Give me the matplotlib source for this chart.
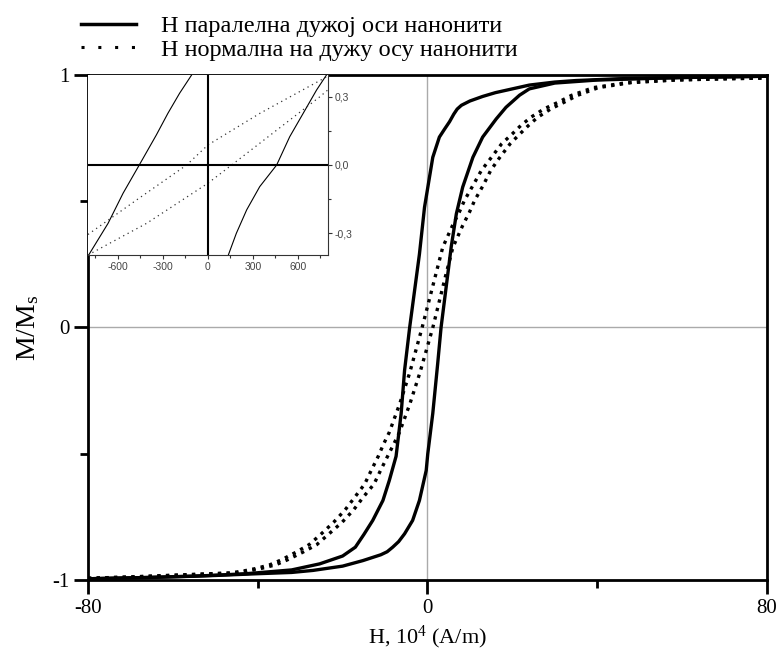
import matplotlib.pyplot as plt
from matplotlib.lines import Line2D

plt.rcParams['font.family'] = ['Liberation Serif', 'DejaVu Serif']
plt.rcParams['mathtext.fontset'] = 'custom'
plt.rcParams['mathtext.rm'] = 'Liberation Serif'
plt.rcParams['mathtext.it'] = 'Liberation Serif:italic'
plt.rcParams['axes.unicode_minus'] = False

# H parallel to the long axis - descending branch (from +80 to -80)
par_down_h = [80, 60, 45, 35, 30, 24, 20, 16, 13, 10, 8, 7, 6.2, 5.2, 4, 2.8, 1.25,
              0.47, -0.7, -1.9, -4.2, -5.4, -6.2, -7.4, -9, -10.5, -12.9, -15, -17,
              -20, -25.4, -32, -42.7, -55, -66, -80]
par_down_m = [0.995, 0.99, 0.985, 0.978, 0.972, 0.96, 0.945, 0.93, 0.915, 0.897,
              0.88, 0.865, 0.845, 0.815, 0.785, 0.754, 0.674, 0.595, 0.476, 0.29,
              0.0, -0.17, -0.34, -0.51, -0.606, -0.685, -0.764, -0.82, -0.87,
              -0.905, -0.936, -0.96, -0.975, -0.985, -0.99, -0.995]

# H parallel - ascending branch (from -80 to +80)
par_up_h = [-80, -66, -50, -40, -32, -27, -20, -15.2, -11, -9.5, -8.2, -6.8, -5.4,
            -3.5, -1.9, -0.3, 0.07, 1.25, 2.4, 3.2, 4.4, 5.6, 6.8, 8.3, 10.7, 13,
            16.2, 18.5, 21.7, 24, 30, 40, 50, 60, 80]
par_up_m = [-0.995, -0.99, -0.982, -0.975, -0.97, -0.962, -0.945, -0.923, -0.9,
            -0.888, -0.87, -0.848, -0.817, -0.764, -0.685, -0.566, -0.5, -0.34,
            -0.144, 0.0, 0.16, 0.32, 0.45, 0.556, 0.674, 0.754, 0.826, 0.872, 0.92,
            0.945, 0.968, 0.98, 0.985, 0.99, 0.995]

# H normal to the long axis - two branches sharing the same M values
perp_m = [-0.993, -0.988, -0.98, -0.972, -0.965, -0.955, -0.94, -0.92, -0.89, -0.86,
          -0.82, -0.771, -0.722, -0.669, -0.62, -0.564, -0.51, -0.46, -0.415, -0.36,
          -0.305, -0.18, 0.0, 0.2, 0.318, 0.404, 0.457, 0.503, 0.562, 0.622, 0.668,
          0.728, 0.767, 0.8, 0.833, 0.866, 0.892, 0.919, 0.95, 0.97, 0.98, 0.985, 0.988]
perp_down_h = [-80, -70.5, -58.5, -46.6, -43.6, -40.6, -37.2, -34.4, -31, -27.9,
               -25.2, -22.1, -19.4, -17, -14.8, -13.2, -11.6, -10.3, -9, -7.8, -6.6,
               -4.2, -1.26, 1.8, 3.6, 5.9, 7.5, 8.7, 10.7, 12.7, 14.8, 17.5, 20, 22,
               24.4, 27.5, 30.8, 33.9, 39.1, 47.1, 57.6, 69.6, 80]
perp_up_h = [-80, -69.5, -57.5, -45.4, -42.4, -39.4, -35.8, -33, -29.4, -26.1,
             -23.4, -20.1, -17.4, -15, -12.6, -11, -9.4, -7.9, -6.6, -5.4, -4.2,
             -1.8, 1.26, 4.2, 6, 8.3, 9.9, 11.1, 13.1, 14.9, 16.8, 19.5, 21.8, 23.8,
             26, 29.1, 32.2, 35.3, 40.3, 48.1, 58.4, 70.4, 80]

# inset (zoom around the origin)
ins_par_left_h = [-800, -666, -566, -458, -344, -267, -189, -104]
ins_par_left_m = [-0.4, -0.256, -0.124, 0.0, 0.132, 0.227, 0.315, 0.4]
ins_par_right_h = [133, 189, 258, 345, 458, 545, 635, 724, 795]
ins_par_right_m = [-0.4, -0.3, -0.197, -0.095, 0.0, 0.124, 0.227, 0.329, 0.4]
ins_perp_upper_h = [-800, -475, -142, 0, 347, 800]
ins_perp_upper_m = [-0.305, -0.153, 0.0, 0.088, 0.227, 0.39]
ins_perp_lower_h = [-800, -409, 0, 158, 747, 800]
ins_perp_lower_m = [-0.395, -0.256, -0.08, 0.0, 0.3, 0.33]

legend_labels = ['Н паралелна дужој оси нанонити', 'Н нормална на дужу осу нанонити']

dots = (0, (1, 1.6))

fig = plt.figure(figsize=(7.82, 6.52), dpi=100)
ax = fig.add_axes([0.1125, 0.1104, 0.8683, 0.7746])

ax.axhline(0, color='#aaaaaa', lw=1, zorder=1)
ax.axvline(0, color='#aaaaaa', lw=1, zorder=1)
ax.plot(par_down_h, par_down_m, color='k', lw=2.4, zorder=3)
ax.plot(par_up_h, par_up_m, color='k', lw=2.4, zorder=3)
ax.plot(perp_down_h, perp_m, color='k', lw=2.4, linestyle=dots, zorder=2)
ax.plot(perp_up_h, perp_m, color='k', lw=2.4, linestyle=dots, zorder=2)

ax.set_xlim(-80, 80)
ax.set_ylim(-1, 1)
ax.set_xticks([-80, 0, 80])
ax.set_xticklabels(['-80', '0', '80'])
ax.set_xticks([-40, 40], minor=True)
ax.set_yticks([-1, 0, 1])
ax.set_yticklabels(['-1', '0', '1'])
ax.set_yticks([-0.5, 0.5], minor=True)
ax.tick_params(which='major', direction='out', length=10, width=2, labelsize=15)
ax.tick_params(which='minor', direction='out', length=6, width=2)
for s in ax.spines.values():
    s.set_linewidth(2)
ax.set_xlabel('H, 10$^4$ (A/m)', fontsize=16)
ax.set_ylabel('M/M$_\\mathrm{s}$', fontsize=20, labelpad=8)

# inset
ins = fig.add_axes([0.1125, 0.6089, 0.3069, 0.2761])
ins.plot(ins_par_left_h, ins_par_left_m, color='k', lw=0.8)
ins.plot(ins_par_right_h, ins_par_right_m, color='k', lw=0.8)
ins.plot(ins_perp_upper_h, ins_perp_upper_m, color='#333333', lw=0.9, linestyle=(0, (1, 3)))
ins.plot(ins_perp_lower_h, ins_perp_lower_m, color='#333333', lw=0.9, linestyle=(0, (1, 3)))
ins.axhline(0, color='k', lw=1.5)
ins.axvline(0, color='k', lw=1.5)
ins.set_xlim(-800, 800)
ins.set_ylim(-0.395, 0.395)
ins.spines['left'].set_visible(False)
ins.spines['top'].set_visible(False)
ins.spines['right'].set_color('#333333')
ins.spines['bottom'].set_color('#333333')
ins.yaxis.tick_right()
ins.set_yticks([-0.3, 0, 0.3])
ins.set_yticklabels(['-0,3', '0,0', '0,3'])
ins.set_yticks([-0.15, 0.15], minor=True)
ins.set_xticks([-600, -300, 0, 300, 600])
ins.set_xticklabels(['-600', '-300', '0', '300', '600'])
ins.set_xticks([-750, -450, -150, 150, 450, 750], minor=True)
ins.tick_params(which='both', direction='out', color='#333333', width=0.8,
                labelsize=7.5, labelcolor='#444444', pad=2)
ins.tick_params(which='major', length=3)
ins.tick_params(which='minor', length=2)
for lab in ins.get_xticklabels() + ins.get_yticklabels():
    lab.set_fontfamily('Liberation Sans')

handles = [Line2D([], [], color='k', lw=2.5),
           Line2D([], [], color='k', lw=2.2, linestyle=(0, (1, 4.5)))]
fig.legend(handles, legend_labels, loc='upper left', bbox_to_anchor=(0.075, 1.01),
           frameon=False, fontsize=17.5, handlelength=2.3, handletextpad=1.0,
           labelspacing=0.05)

fig.savefig('out.png', dpi=100)
